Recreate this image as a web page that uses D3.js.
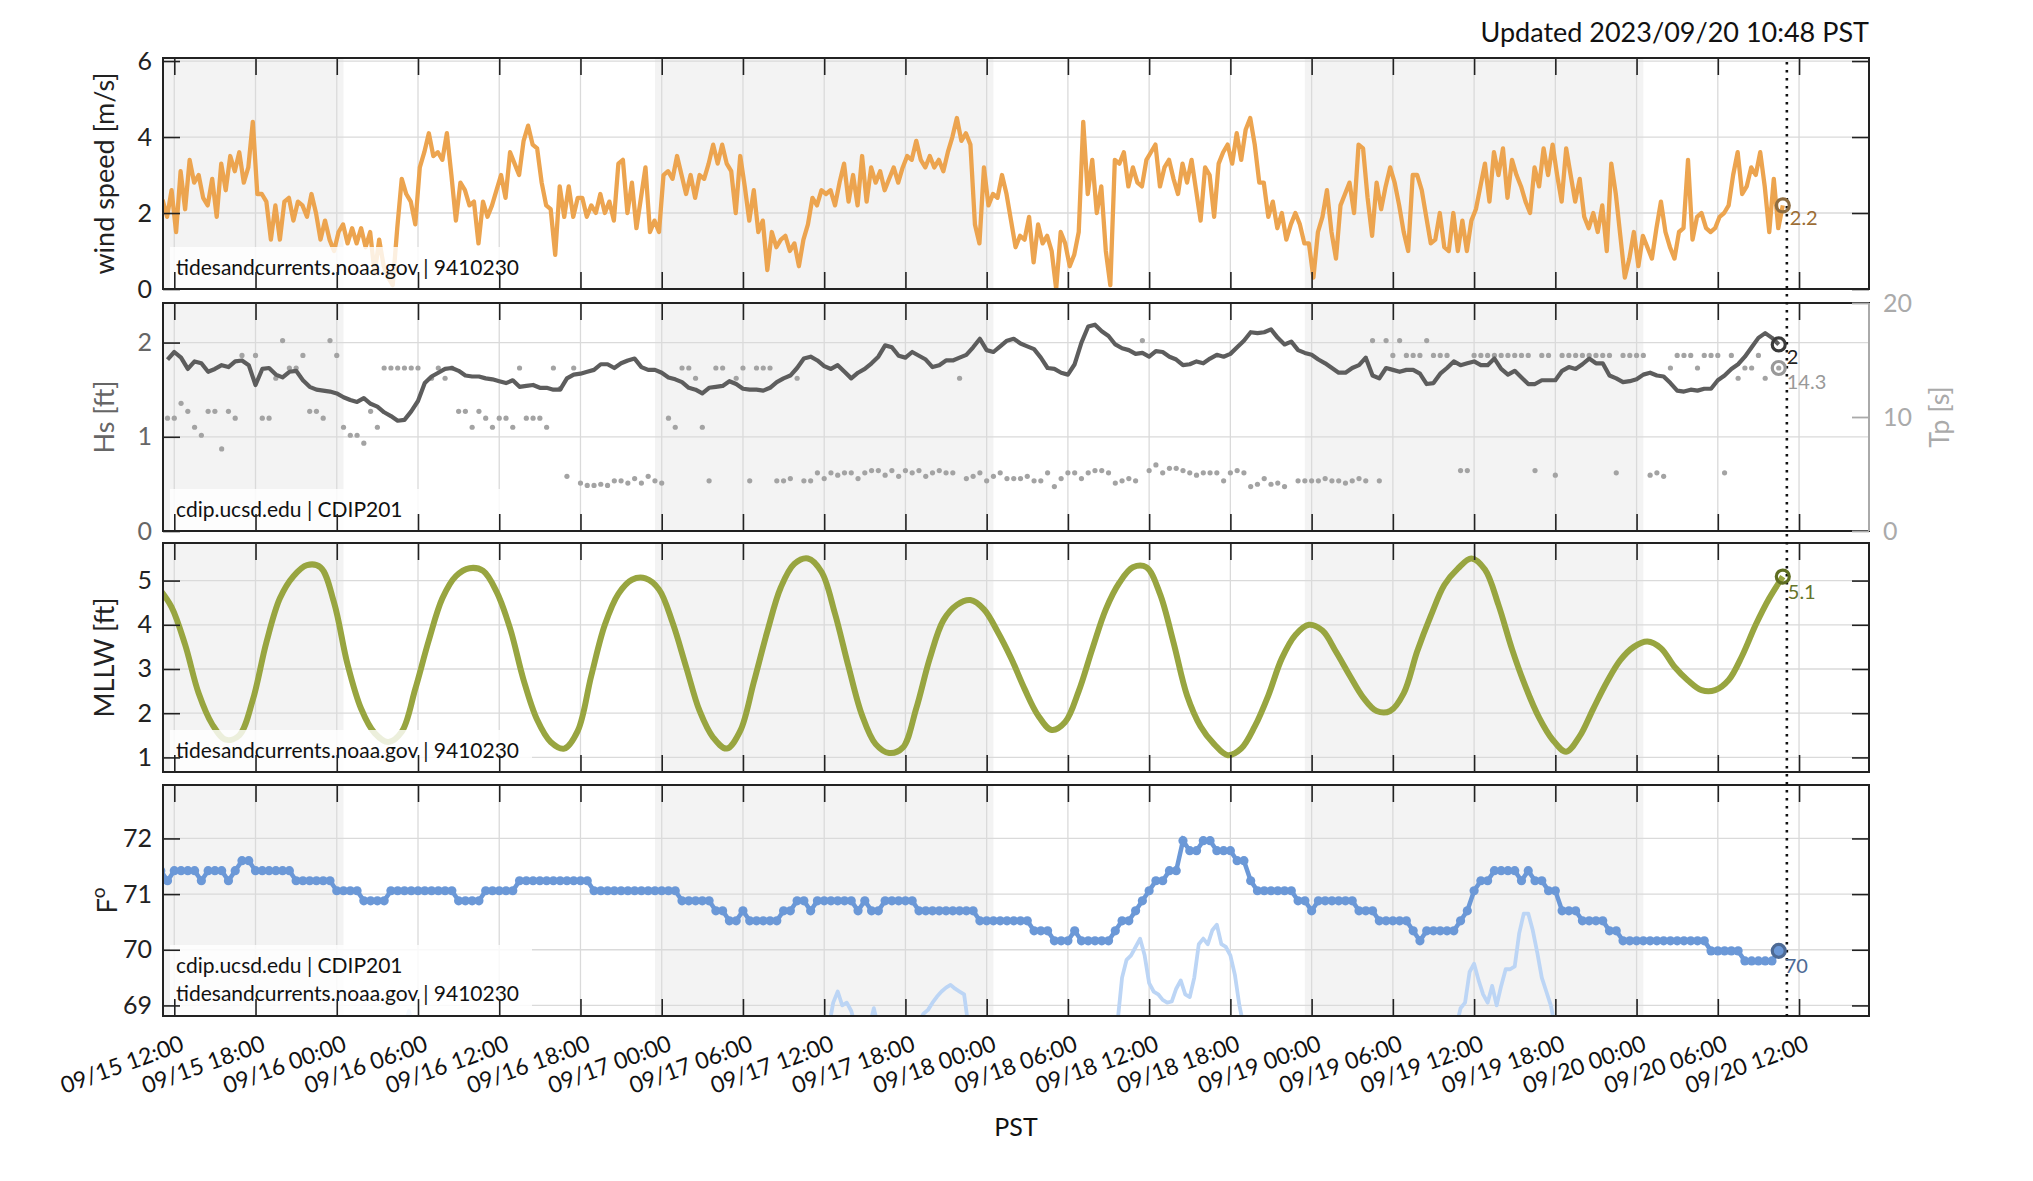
<!DOCTYPE html>
<html>
<head>
<meta charset="utf-8">
<script src="https://cdn.jsdelivr.net/npm/d3@7"></script>
<style>
  body { margin: 0; background: #fff; }
  svg text { font-family: Lato, "Open Sans", sans-serif; }
</style>
</head>
<body>
<script>
// ---- data ----
const updatedText = "Updated 2023/09/20 10:48 PST";
const xStart = "2023-09-15 11:10", xEnd = "2023-09-20 17:10";
const nowLine = "2023-09-20 11:06";
const shadeStart = ["2023-09-14 23:30", "2023-09-16 23:30", "2023-09-18 23:30"];
const shadeEnd = ["2023-09-16 00:30", "2023-09-18 00:30", "2023-09-20 00:30"];

// wind speed [m/s], every 20 min
const windStart = "2023-09-15 11:08", windStep = 20;
const windSpeed = [
  2.35,1.9,2.6,1.5,3.1,2.1,3.4,2.8,3.0,2.4, 2.2,2.9,1.9,3.3,2.6,3.5,3.1,3.6,2.8,3.2,
  4.4,2.5,2.5,2.3,1.3,2.2,1.3,2.3,2.4,1.8, 2.3,2.2,1.9,2.5,2.0,1.3,1.8,1.3,1.0,1.5,
  1.7,1.2,1.6,1.2,1.6,1.1,1.5,0.4,1.3,0.6, 0.3,0.1,1.6,2.9,2.5,2.3,1.7,3.2,3.6,4.1,
  3.5,3.6,3.4,4.1,3.0,1.8,2.8,2.6,2.2,2.3, 1.2,2.3,1.9,2.2,2.6,3.0,2.4,3.6,3.3,3.0,
  3.9,4.3,3.8,3.7,2.8,2.2,2.1,0.9,2.7,1.9, 2.7,1.9,2.4,2.4,1.9,2.2,2.0,2.5,2.0,2.3,
  1.8,3.3,3.4,2.0,2.8,1.6,2.4,3.2,1.5,1.8, 1.5,3.0,3.1,2.9,3.5,3.0,2.5,3.0,2.4,3.0,
  2.9,3.3,3.8,3.3,3.8,3.3,3.1,2.0,3.5,2.7, 1.8,2.6,1.5,1.8,0.5,1.5,1.1,1.3,1.4,1.0,
  1.2,0.6,1.3,1.7,2.4,2.2,2.6,2.5,2.6,2.2, 2.8,3.3,2.3,3.0,2.2,3.5,2.3,3.2,2.8,3.1,
  2.6,2.9,3.2,2.8,3.2,3.5,3.4,3.9,3.4,3.2, 3.5,3.2,3.4,3.1,3.6,4.0,4.5,3.9,4.1,3.8,
  1.7,1.2,3.2,2.2,2.5,2.4,3.0,2.5,1.8,1.1, 1.4,1.3,1.9,0.7,1.7,1.2,1.4,1.0,0.0,1.5,
  1.2,0.6,0.9,1.5,4.4,2.5,3.4,2.0,2.7,1.0, 0.1,3.4,3.3,3.6,2.7,3.2,2.8,2.7,3.4,3.6,
  3.8,2.7,3.2,3.4,2.9,2.5,3.3,2.8,3.4,2.6, 1.8,3.2,3.0,1.9,3.3,3.6,3.8,3.3,4.1,3.4,
  4.2,4.5,3.8,2.8,2.8,1.9,2.3,1.6,2.0,1.3, 1.7,2.0,1.7,1.2,1.2,0.3,1.5,1.9,2.6,1.5,
  0.8,2.2,2.5,2.8,2.0,3.8,3.7,2.4,1.4,2.8, 2.1,2.7,3.2,2.8,2.2,1.5,1.0,3.0,3.0,2.6,
  1.9,1.2,1.3,2.0,1.1,1.0,2.0,1.0,1.8,1.0, 1.8,2.1,2.7,3.3,2.3,3.6,3.0,3.7,2.4,3.4,
  3.0,2.7,2.3,2.0,3.2,2.7,3.7,3.0,3.8,3.0, 2.3,3.7,3.0,2.3,2.9,1.9,1.6,2.0,1.5,2.2,
  1.0,3.3,2.5,1.4,0.3,0.8,1.5,0.6,1.4,1.1, 0.8,1.6,2.3,1.5,1.1,0.8,1.5,1.6,3.4,1.3,
  1.9,2.0,1.6,1.5,1.6,1.9,2.0,2.2,3.0,3.6, 2.5,2.7,3.2,3.0,3.6,2.7,1.5,2.9,1.6,2.2
];

// significant wave height [ft] and peak period [s], every 30 min
const waveStart = "2023-09-15 11:30", waveStep = 30;
const waveHs = [
  1.82,1.9,1.84,1.72,1.8,1.78,1.69,1.72,1.76,1.74, 1.8,1.81,1.76,1.55,1.72,1.73,1.66,1.63,1.69,1.7,
  1.6,1.53,1.5,1.49,1.48,1.46,1.42,1.39,1.37,1.41, 1.35,1.32,1.26,1.22,1.17,1.18,1.27,1.38,1.57,1.64,
  1.68,1.72,1.73,1.7,1.65,1.64,1.64,1.62,1.61,1.59, 1.57,1.6,1.53,1.54,1.55,1.52,1.52,1.5,1.5,1.62,
  1.66,1.67,1.69,1.71,1.77,1.77,1.73,1.78,1.81,1.83, 1.74,1.71,1.71,1.68,1.63,1.61,1.58,1.52,1.5,1.46,
  1.52,1.53,1.54,1.59,1.56,1.51,1.5,1.5,1.49,1.52, 1.58,1.62,1.65,1.73,1.83,1.85,1.81,1.75,1.72,1.76,
  1.69,1.62,1.68,1.72,1.78,1.85,1.97,1.95,1.86,1.84, 1.9,1.86,1.82,1.74,1.76,1.81,1.81,1.84,1.87,1.95,
  2.04,1.92,1.9,1.96,2.02,2.04,1.99,1.96,1.93,1.84, 1.73,1.72,1.68,1.66,1.77,2.0,2.17,2.19,2.12,2.07,
  1.98,1.94,1.92,1.88,1.89,1.85,1.91,1.9,1.85,1.82, 1.76,1.77,1.8,1.78,1.83,1.87,1.85,1.88,1.95,2.02,
  2.11,2.1,2.11,2.14,2.05,1.98,2.01,1.92,1.89,1.87, 1.82,1.78,1.73,1.68,1.68,1.73,1.76,1.84,1.65,1.62,
  1.73,1.71,1.69,1.71,1.71,1.67,1.56,1.57,1.67,1.73, 1.8,1.76,1.78,1.8,1.76,1.76,1.83,1.72,1.66,1.7,
  1.63,1.56,1.56,1.6,1.6,1.6,1.7,1.74,1.72,1.77, 1.83,1.78,1.78,1.65,1.62,1.58,1.59,1.61,1.66,1.68,
  1.65,1.64,1.57,1.49,1.48,1.5,1.49,1.51,1.51,1.6, 1.65,1.72,1.77,1.85,1.95,2.05,2.1,2.05,1.98
];
const wavePeriod = [
  9.9,9.9,11.2,10.5,9.1,8.4,10.5,10.5,7.2,10.5, 9.9,15.4,null,15.4,9.9,9.9,13.4,16.7,14.3,14.3,
  15.4,10.5,10.5,9.9,16.7,15.4,9.1,8.4,8.4,7.7, 10.5,9.1,14.3,14.3,14.3,14.3,14.3,14.3,null,13.4,
  14.3,13.4,14.3,10.5,10.5,9.1,10.5,9.9,9.1,9.9, 9.9,9.1,14.3,9.9,9.9,9.9,9.1,14.3,12.5,4.8,
  14.3,4.2,4.0,4.0,4.1,4.0,4.4,4.4,4.2,4.6, 4.2,4.8,4.4,4.2,9.9,9.1,14.3,14.3,13.4,9.1,
  4.4,14.3,14.3,null,13.4,14.3,4.4,14.3,14.3,14.3, 4.4,4.4,4.6,13.4,4.4,4.4,5.1,4.6,5.1,4.9,
  5.1,5.1,4.6,5.1,5.3,5.3,4.9,5.3,4.8,5.3, 5.1,5.3,4.8,5.1,5.3,5.1,5.1,13.4,4.6,4.8,
  5.1,4.4,4.8,5.1,4.6,4.6,4.6,4.8,4.4,4.4, 5.1,3.9,4.6,5.1,5.1,4.6,5.1,5.3,5.3,5.1,
  4.2,4.4,4.6,4.4,16.7,5.3,5.8,5.1,5.5,5.5, 5.3,5.1,4.9,5.1,5.1,5.1,4.4,5.1,5.3,5.1,
  3.9,4.1,4.6,4.1,4.2,3.9,null,4.4,4.4,4.4, 4.4,4.6,4.4,4.4,4.2,4.4,4.6,4.4,16.7,4.4,
  16.7,15.4,16.7,15.4,15.4,15.4,16.7,15.4,15.4,15.4, null,5.3,5.3,15.4,15.4,15.4,15.4,15.4,15.4,15.4,
  15.4,15.4,5.3,15.4,15.4,4.9,15.4,15.4,15.4,15.4, 15.4,15.4,15.4,15.4,5.1,15.4,15.4,15.4,15.4,4.9,
  5.1,4.8,14.3,15.4,15.4,15.4,14.3,15.4,15.4,15.4, 5.1,15.4,13.4,14.3,14.3,15.4,13.4,null,14.3
];

// water level above MLLW [ft], hourly
const tideStart = "2023-09-15 10:48", tideStep = 60;
const tideMLLW = [
  4.85,4.4,3.55,2.45,1.75,1.4,1.5,2.3,3.6,4.6, 5.1,5.35,5.3,4.5,3.1,2.1,1.55,1.35,1.58,2.55,
  3.65,4.6,5.1,5.28,5.22,4.75,3.92,2.75,1.85,1.35, 1.2,1.6,2.85,4.0,4.7,5.02,5.05,4.8,4.05,3.05,
  2.05,1.45,1.2,1.6,2.7,3.85,4.85,5.38,5.5,5.2, 4.25,3.05,1.95,1.3,1.1,1.22,2.11,3.24,4.1,4.45,
  4.56,4.35,3.85,3.25,2.55,1.95,1.62,1.8,2.5,3.45, 4.35,4.95,5.3,5.3,4.7,3.6,2.4,1.7,1.3,1.05,
  1.2,1.7,2.4,3.24,3.77,4.0,3.87,3.39,2.86,2.36, 2.05,2.05,2.45,3.4,4.2,4.9,5.27,5.5,5.25,4.45,
  3.45,2.6,1.9,1.4,1.13,1.48,2.1,2.7,3.2,3.5, 3.62,3.47,3.05,2.74,2.52,2.52,2.75,3.3,4.0,4.6,
  5.09
];

// water temperature [F], every 30 min
const waterStart = "2023-09-15 11:00", waterStep = 30;
const waterTemp = [
  71.42,71.24,71.42,71.42,71.42,71.42,71.24,71.42,71.42,71.42, 71.24,71.42,71.6,71.6,71.42,71.42,71.42,71.42,71.42,71.42,
  71.24,71.24,71.24,71.24,71.24,71.24,71.06,71.06,71.06,71.06, 70.88,70.88,70.88,70.88,71.06,71.06,71.06,71.06,71.06,71.06,
  71.06,71.06,71.06,71.06,70.88,70.88,70.88,70.88,71.06,71.06, 71.06,71.06,71.06,71.24,71.24,71.24,71.24,71.24,71.24,71.24,
  71.24,71.24,71.24,71.24,71.06,71.06,71.06,71.06,71.06,71.06, 71.06,71.06,71.06,71.06,71.06,71.06,71.06,70.88,70.88,70.88,
  70.88,70.88,70.7,70.7,70.52,70.52,70.7,70.52,70.52,70.52, 70.52,70.52,70.7,70.7,70.88,70.88,70.7,70.88,70.88,70.88,
  70.88,70.88,70.88,70.7,70.88,70.7,70.7,70.88,70.88,70.88, 70.88,70.88,70.7,70.7,70.7,70.7,70.7,70.7,70.7,70.7,
  70.7,70.52,70.52,70.52,70.52,70.52,70.52,70.52,70.52,70.34, 70.34,70.34,70.16,70.16,70.16,70.34,70.16,70.16,70.16,70.16,
  70.16,70.34,70.52,70.52,70.7,70.88,71.06,71.24,71.24,71.42, 71.42,71.96,71.78,71.78,71.96,71.96,71.78,71.78,71.78,71.6,
  71.6,71.24,71.06,71.06,71.06,71.06,71.06,71.06,70.88,70.88, 70.7,70.88,70.88,70.88,70.88,70.88,70.88,70.7,70.7,70.7,
  70.52,70.52,70.52,70.52,70.52,70.34,70.16,70.34,70.34,70.34, 70.34,70.34,70.52,70.7,71.06,71.24,71.24,71.42,71.42,71.42,
  71.42,71.24,71.42,71.24,71.24,71.06,71.06,70.7,70.7,70.7, 70.52,70.52,70.52,70.52,70.34,70.34,70.16,70.16,70.16,70.16,
  70.16,70.16,70.16,70.16,70.16,70.16,70.16,70.16,70.16,69.98, 69.98,69.98,69.98,69.98,69.8,69.8,69.8,69.8,69.8,69.98
];

// air temperature [F], only the stretches that reach into the panel, every 20 min
const airStart = ["2023-09-16 05:00", "2023-09-17 12:20", "2023-09-17 15:20",
                  "2023-09-17 18:40", "2023-09-18 09:40", "2023-09-19 10:40"];
const airStep = 20;
const airTemp = [
  [68.6,68.9,68.6],
  [68.6,69.05,69.25,69.0,69.05,68.9,68.6],
  [68.6,68.95,68.6],
  [68.6,68.7,68.85,68.92,69.05,69.16,69.25,69.32,69.37,69.3,69.25,69.2,68.6],
  [68.7,69.5,69.82,69.9,70.05,70.2,69.9,69.4,69.25,69.2,69.1,69.05,69.07,69.3,69.45,
   69.2,69.15,69.5,70.1,70.2,70.1,70.35,70.45,70.1,70.05,69.9,69.55,69.0,68.6],
  [68.6,68.95,69.05,69.6,69.75,69.45,69.2,69.05,69.35,69.0,69.35,69.65,69.65,69.7,70.3,
   70.65,70.65,70.35,69.95,69.5,69.25,69.0,68.6]
];

const windTicks = [0, 2, 4, 6], hsTicks = [0, 1, 2], tpTicks = [0, 10, 20];
const tideTicks = [1, 2, 3, 4, 5], tempTicks = [69, 70, 71, 72];

// ---- layout ----
const W = 2033, H = 1181;
const left = 163, right = 1869;
const panels = [
  { top: 58, bottom: 289 },
  { top: 303, bottom: 531 },
  { top: 543, bottom: 772 },
  { top: 785, bottom: 1016 }
];

const parse = d3.utcParse("%Y-%m-%d %H:%M");
const series = (start, stepMin, vals) => {
  const t0 = +parse(start);
  return vals.map((v, i) => ({ t: new Date(t0 + i * stepMin * 60000), v }));
};

const x = d3.scaleUtc().domain([parse(xStart), parse(xEnd)]).range([left, right]);
const xTicks = x.ticks(d3.utcHour.every(6));

const svg = d3.select("body").append("svg")
  .attr("width", W).attr("height", H)
  .style("display", "block");

let clipN = 0;
function makePanel(p, domain, ticks) {
  const y = d3.scaleLinear().domain(domain).range([p.bottom, p.top]);
  const id = "clip" + (clipN++);
  svg.append("clipPath").attr("id", id).append("rect")
    .attr("x", left).attr("y", p.top)
    .attr("width", right - left).attr("height", p.bottom - p.top);
  const g = svg.append("g").attr("clip-path", `url(#${id})`);
  g.selectAll("rect.shade").data(shadeStart).join("rect")
    .attr("x", d => x(parse(d)))
    .attr("width", (d, i) => x(parse(shadeEnd[i])) - x(parse(d)))
    .attr("y", p.top).attr("height", p.bottom - p.top)
    .attr("fill", "#f3f3f3");
  g.selectAll("line.vg").data(xTicks).join("line")
    .attr("x1", d => x(d)).attr("x2", d => x(d))
    .attr("y1", p.top).attr("y2", p.bottom)
    .attr("stroke", "#dadada").attr("stroke-width", 1.3);
  g.selectAll("line.hg").data(ticks).join("line")
    .attr("x1", left).attr("x2", right)
    .attr("y1", d => y(d)).attr("y2", d => y(d))
    .attr("stroke", "#dadada").attr("stroke-width", 1.3);
  return { p, y, g, id };
}

function frame(P, ticks, opts = {}) {
  const { p, y } = P;
  const labelColor = opts.labelColor || "#222";
  const gl = svg.append("g").attr("transform", `translate(${left},0)`)
    .call(d3.axisLeft(y).tickValues(ticks).tickSize(-17).tickPadding(11).tickFormat(d3.format("d")));
  gl.select(".domain").remove();
  gl.selectAll("line").attr("stroke", "#222").attr("stroke-width", 1.6);
  gl.selectAll("text").attr("fill", labelColor).style("font-size", "25px");
  if (!opts.noRight) {
    const gr = svg.append("g").attr("transform", `translate(${right},0)`)
      .call(d3.axisRight(y).tickValues(ticks).tickSize(-17).tickFormat(""));
    gr.select(".domain").remove();
    gr.selectAll("line").attr("stroke", "#222").attr("stroke-width", 1.6);
  }
  const gb = svg.append("g").attr("transform", `translate(0,${p.bottom})`)
    .call(d3.axisBottom(x).tickValues(xTicks).tickSize(-17).tickFormat(""));
  gb.select(".domain").remove();
  gb.selectAll("line").attr("stroke", "#222").attr("stroke-width", 1.6);
  const gt = svg.append("g").attr("transform", `translate(0,${p.top})`)
    .call(d3.axisTop(x).tickValues(xTicks).tickSize(-17).tickFormat(""));
  gt.select(".domain").remove();
  gt.selectAll("line").attr("stroke", "#222").attr("stroke-width", 1.6);
  svg.append("rect").attr("x", left).attr("y", p.top)
    .attr("width", right - left).attr("height", p.bottom - p.top)
    .attr("fill", "none").attr("stroke", "#222").attr("stroke-width", 2);
}

function yTitle(P, text, color, xPos) {
  const cy = (P.p.top + P.p.bottom) / 2;
  return svg.append("text")
    .attr("transform", `translate(${xPos},${cy}) rotate(-90)`)
    .attr("text-anchor", "middle").attr("dominant-baseline", "central")
    .attr("fill", color).style("font-size", "27px").text(text);
}

function sourceBox(P, lines) {
  const h = lines.length === 1 ? 42 : 71;
  P.g.append("rect")
    .attr("x", 170).attr("y", P.p.bottom - h)
    .attr("width", 362).attr("height", h)
    .attr("fill", "#fff").attr("fill-opacity", 0.82);
  lines.forEach((t, i) => {
    svg.append("text").attr("x", 176)
      .attr("y", P.p.bottom - h + 28 + i * 28)
      .attr("fill", "#111").style("font-size", "21px").text(t);
  });
}

function endMarker(P, y, d, stroke, fill, label, labelColor, dx, dy) {
  svg.append("circle").attr("cx", x(d.t)).attr("cy", y(d.v)).attr("r", 6.5)
    .attr("fill", fill).attr("stroke", stroke).attr("stroke-width", 3.2);
  svg.append("text").attr("x", x(d.t) + dx).attr("y", y(d.v) + dy)
    .attr("fill", labelColor).style("font-size", "20px").text(label);
}

// ---- panel 1: wind ----
const wind = series(windStart, windStep, windSpeed);
const P1 = makePanel(panels[0], [0, 6.08], windTicks);
P1.g.append("path").datum(wind)
  .attr("d", d3.line().x(d => x(d.t)).y(d => P1.y(d.v)))
  .attr("fill", "none").attr("stroke", "#eca44f").attr("stroke-width", 4.3)
  .attr("stroke-linejoin", "round");
sourceBox(P1, ["tidesandcurrents.noaa.gov | 9410230"]);
frame(P1, windTicks);
yTitle(P1, "wind speed [m/s]", "#222", 103);

// ---- panel 2: waves ----
const hs = series(waveStart, waveStep, waveHs);
const tp = series(waveStart, waveStep, wavePeriod);
const P2 = makePanel(panels[1], [0, 2.42], [1, 2]);
const yTp = d3.scaleLinear().domain([0, 20]).range([panels[1].bottom, panels[1].top]);
P2.g.selectAll("circle.tp").data(tp.filter(d => d.v != null)).join("circle")
  .attr("cx", d => x(d.t)).attr("cy", d => yTp(d.v)).attr("r", 2.6)
  .attr("fill", "#a3a3a3");
P2.g.append("path").datum(hs)
  .attr("d", d3.line().x(d => x(d.t)).y(d => P2.y(d.v)))
  .attr("fill", "none").attr("stroke", "#5d5d5d").attr("stroke-width", 4.2)
  .attr("stroke-linejoin", "round");
sourceBox(P2, ["cdip.ucsd.edu | CDIP201"]);
frame(P2, hsTicks, { labelColor: "#666", noRight: true });
{
  const gr = svg.append("g").attr("transform", `translate(${right},0)`)
    .call(d3.axisRight(yTp).tickValues(tpTicks).tickSize(-17).tickPadding(14));
  gr.select(".domain").remove();
  gr.selectAll("line").attr("stroke", "#aaa").attr("stroke-width", 1.8);
  gr.selectAll("text").attr("fill", "#aaa").style("font-size", "25px");
  svg.append("line").attr("x1", right).attr("x2", right)
    .attr("y1", panels[1].top).attr("y2", panels[1].bottom)
    .attr("stroke", "#aaa").attr("stroke-width", 2);
}
yTitle(P2, "Hs [ft]", "#666", 103);
yTitle(P2, "Tp [s]", "#aaa", 1938);

// ---- panel 3: tide ----
const tide = series(tideStart, tideStep, tideMLLW);
const P3 = makePanel(panels[2], [0.67, 5.85], tideTicks);
P3.g.append("path").datum(tide)
  .attr("d", d3.line().curve(d3.curveCatmullRom.alpha(0.5)).x(d => x(d.t)).y(d => P3.y(d.v)))
  .attr("fill", "none").attr("stroke", "#98a540").attr("stroke-width", 6);
sourceBox(P3, ["tidesandcurrents.noaa.gov | 9410230"]);
frame(P3, tideTicks);
yTitle(P3, "MLLW [ft]", "#222", 103);

// ---- panel 4: temperature ----
const water = series(waterStart, waterStep, waterTemp);
const P4 = makePanel(panels[3], [68.81, 72.96], tempTicks);
airTemp.forEach((vals, i) => {
  P4.g.append("path").datum(series(airStart[i], airStep, vals))
    .attr("d", d3.line().x(d => x(d.t)).y(d => P4.y(d.v)))
    .attr("fill", "none").attr("stroke", "#bcd5f5").attr("stroke-width", 3.8)
    .attr("stroke-linejoin", "round");
});
P4.g.append("path").datum(water)
  .attr("d", d3.line().x(d => x(d.t)).y(d => P4.y(d.v)))
  .attr("fill", "none").attr("stroke", "#6b98d7").attr("stroke-width", 4.5);
P4.g.selectAll("circle.w").data(water).join("circle")
  .attr("cx", d => x(d.t)).attr("cy", d => P4.y(d.v)).attr("r", 4.6)
  .attr("fill", "#6b98d7");
sourceBox(P4, ["cdip.ucsd.edu | CDIP201", "tidesandcurrents.noaa.gov | 9410230"]);
frame(P4, tempTicks);
{
  const t = yTitle(P4, "F", "#222", 106);
  t.append("tspan").attr("dy", "-0.45em").style("font-size", "19px").text("o");
}

// x tick labels under the last panel
svg.append("g").selectAll("text").data(xTicks).join("text")
  .attr("transform", d => `translate(${x(d) + 11},${panels[3].bottom + 34}) rotate(-20)`)
  .attr("text-anchor", "end")
  .attr("fill", "#111").style("font-size", "23px")
  .text(d => d3.utcFormat("%m/%d %H:%M")(d));
svg.append("text").attr("x", (left + right) / 2).attr("y", 1136)
  .attr("text-anchor", "middle").attr("fill", "#111").style("font-size", "25px").text("PST");

// now line
svg.append("line")
  .attr("x1", x(parse(nowLine))).attr("x2", x(parse(nowLine)))
  .attr("y1", panels[0].top + 4).attr("y2", panels[3].bottom)
  .attr("stroke", "#111").attr("stroke-width", 2.6).attr("stroke-dasharray", "2.6,5.4");

// latest-value markers
endMarker(P1, P1.y, wind[wind.length - 1], "#8d6c40", "none", "2.2", "#9c6d35", 7, 20);
endMarker(P2, P2.y, hs[hs.length - 1], "#3a3a3a", "none", "2", "#222", 8, 20);
endMarker(P2, yTp, tp[tp.length - 1], "#999", "none", "14.3", "#999", 8, 21);
endMarker(P3, P3.y, tide[tide.length - 1], "#5f6e22", "none", "5.1", "#66752a", 5, 22);
endMarker(P4, P4.y, water[water.length - 1], "#4d6a95", "#6b98d7", "70", "#4d6a95", 6, 22);

// title
svg.append("text").attr("x", right).attr("y", 42)
  .attr("text-anchor", "end").attr("fill", "#111").style("font-size", "27px")
  .text(updatedText);
</script>
</body>
</html>
